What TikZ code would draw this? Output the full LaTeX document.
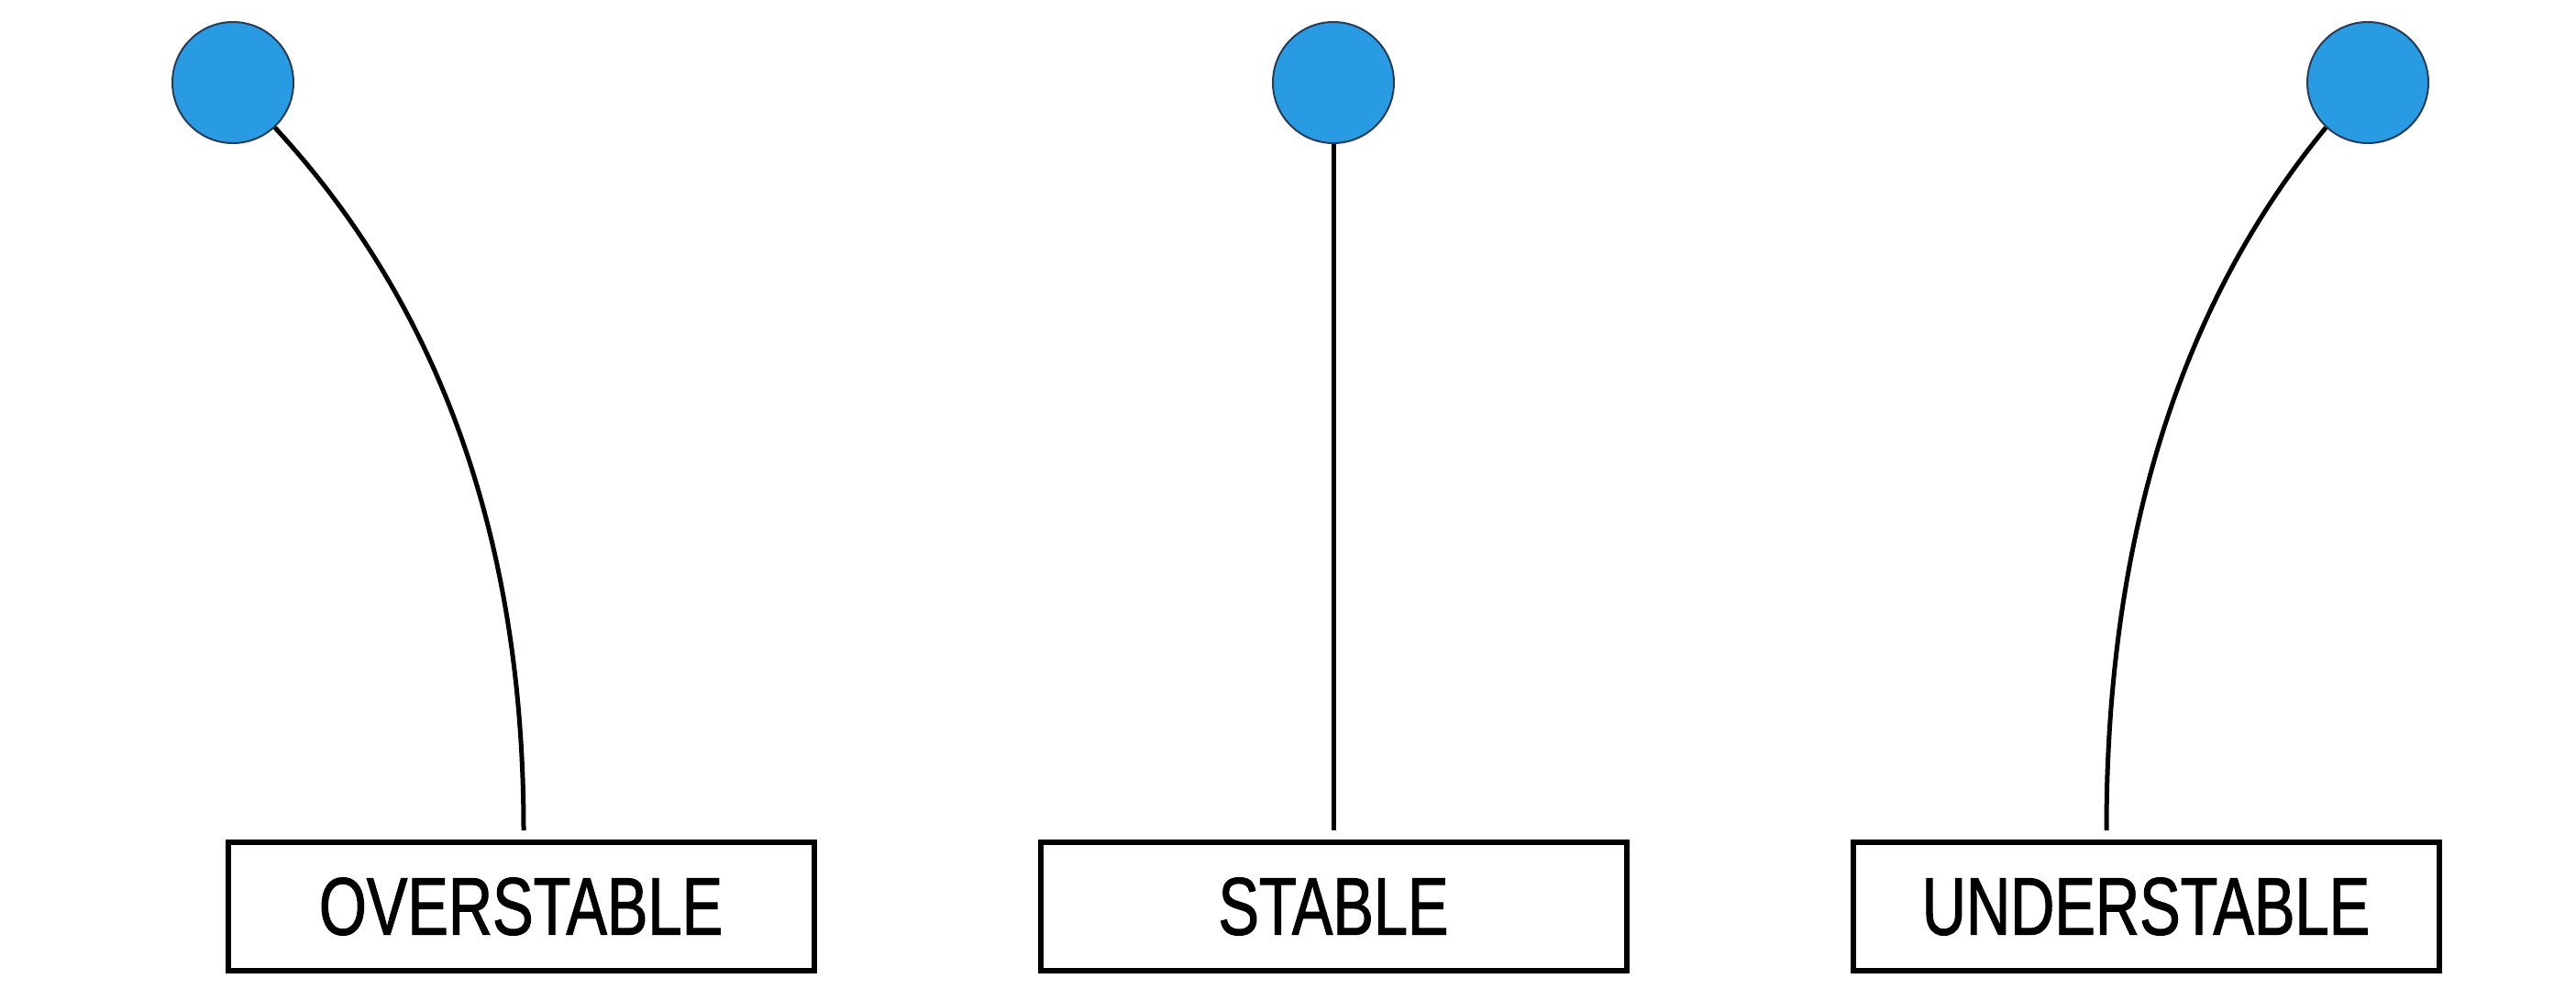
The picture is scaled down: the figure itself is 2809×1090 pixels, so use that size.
\documentclass[tikz,border=0pt]{standalone}
\usepackage{fontspec}
\newfontfamily\labfont[FakeStretch=0.75,FakeBold=1.2]{Liberation Sans}
\definecolor{ballblue}{RGB}{41,155,226}
\definecolor{balledge}{RGB}{40,60,90}
\begin{document}
\begin{tikzpicture}[x=1pt,y=-1pt,
  ball/.style={circle,fill=ballblue,draw=balledge,line width=2pt,minimum size=132pt,inner sep=0pt},
  labelbox/.style={draw=black,line width=6pt,minimum width=639pt,minimum height=140pt,inner sep=0pt,
    font=\labfont\fontsize{89}{92}\selectfont},
  stem/.style={draw=black,line width=5pt}]
\useasboundingbox[fill=white] (0,0) rectangle (2809,1090);
\node[ball] (c1) at (254,90) {};
\node[ball] (c2) at (1454,90) {};
\node[ball] (c3) at (2582,90) {};
\node[labelbox] (b1) at (568,988) {OVERSTABLE};
\node[labelbox] (b2) at (1454,988) {STABLE};
\node[labelbox] (b3) at (2340,988) {UNDERSTABLE};
\coordinate (e1) at (571,905);
\coordinate (e2) at (1454,905);
\coordinate (e3) at (2297,905);
\draw[stem] (c1.-47) .. controls (481,335) and (571,591) .. (e1);
\draw[stem] (c2) -- (e2);
\draw[stem] (c3.-133) .. controls (2377,332) and (2297,588) .. (e3);
\end{tikzpicture}
\end{document}
